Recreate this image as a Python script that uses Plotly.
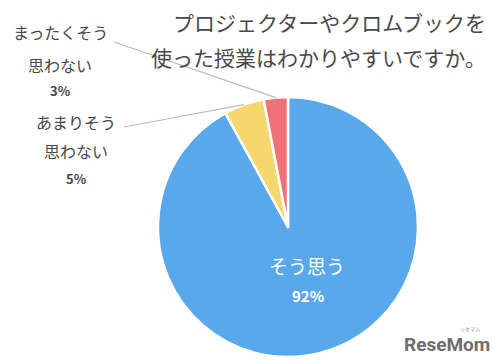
import math
import plotly.graph_objects as go

labels = ["そう思う", "あまりそう思わない", "まったくそう思わない"]
values = [92, 5, 3]
pct_text = ["92%", "5%", "3%"]
colors = ["#5aa8ec", "#f6d76b", "#f07278"]
title_lines = ["プロジェクターやクロムブックを", "使った授業はわかりやすいですか。"]

W, H = 493, 363
dom_x = [158 / W, 418 / W]
dom_y = [1 - 357 / H, 1 - 97 / H]

fig = go.Figure(go.Pie(
    labels=labels, values=values, sort=False, direction="clockwise", rotation=0,
    marker=dict(colors=colors, line=dict(color="white", width=2.5)),
    textinfo="none", hoverinfo="label+percent", showlegend=False,
    domain=dict(x=dom_x, y=dom_y),
))

# pie geometry in pixels
cx = (dom_x[0] + dom_x[1]) / 2 * W
cy = (1 - (dom_y[0] + dom_y[1]) / 2) * H
r = min((dom_x[1] - dom_x[0]) * W, (dom_y[1] - dom_y[0]) * H) / 2
total = sum(values)

def slice_edge(i):
    before = sum(values[:i])
    frac = (before + values[i] / 2) / total
    th = 2 * math.pi * frac
    px = cx + r * math.sin(th)
    py = cy - r * math.cos(th)
    return px / W, 1 - py / H

font = "Noto Sans CJK JP"
gray = "#484848"
ann = []
# title
ann.append(dict(x=488 / W, y=1 - 22 / H, text=title_lines[0], showarrow=False, xanchor="right",
                yanchor="middle", font=dict(family=font, size=21, color=gray)))
ann.append(dict(x=488 / W, y=1 - 57 / H, text=title_lines[1], showarrow=False, xanchor="right",
                yanchor="middle", font=dict(family=font, size=21, color=gray)))

# outside labels (lines of each label)
label_lines = {
    2: (["まったくそう", "思わない"], 60, [32, 65], 91, (114, 42)),
    1: (["あまりそう", "思わない"], 76, [122, 151], 178, (124, 127)),
}
shapes = []
for i, (lines, xc, ys, yp, anchor) in label_lines.items():
    for t, yy in zip(lines, ys):
        ann.append(dict(x=xc / W, y=1 - yy / H, text=t, showarrow=False, xanchor="center",
                        yanchor="middle", font=dict(family=font, size=16, color=gray)))
    ann.append(dict(x=xc / W, y=1 - yp / H, text="<b>" + pct_text[i] + "</b>", showarrow=False,
                    xanchor="center", yanchor="middle", font=dict(family=font, size=13, color=gray)))
    ex, ey = slice_edge(i)
    shapes.append(dict(type="line", xref="paper", yref="paper", x0=anchor[0] / W, y0=1 - anchor[1] / H,
                       x1=ex, y1=ey, line=dict(color="#bbbbbb", width=1.2)))

# inside label
ann.append(dict(x=307 / W, y=1 - 265 / H, text="そう思う", showarrow=False, xanchor="center",
                yanchor="middle", font=dict(family=font, size=19, color="white")))
ann.append(dict(x=308 / W, y=1 - 295 / H, text="<b>" + pct_text[0] + "</b>", showarrow=False,
                xanchor="center", yanchor="middle", font=dict(family=font, size=15, color="white")))

# watermark
ann.append(dict(x=447 / W, y=1 - 344 / H, text="<b>ReseMom</b>", showarrow=False, xanchor="center",
                yanchor="middle", font=dict(family="Roboto", size=19, color="#6e6e6e")))
ann.append(dict(x=470 / W, y=1 - 329 / H, text="リセマム", showarrow=False, xanchor="center",
                yanchor="middle", font=dict(family=font, size=5, color="#8a8a8a")))

fig.update_layout(
    width=W, height=H, margin=dict(l=0, r=0, t=0, b=0),
    paper_bgcolor="white", plot_bgcolor="white",
    annotations=ann, shapes=shapes,
)
fig.write_html("out.html", config={"displayModeBar": False},
               post_script="document.body.style.margin='0';document.body.style.overflow='hidden';")
